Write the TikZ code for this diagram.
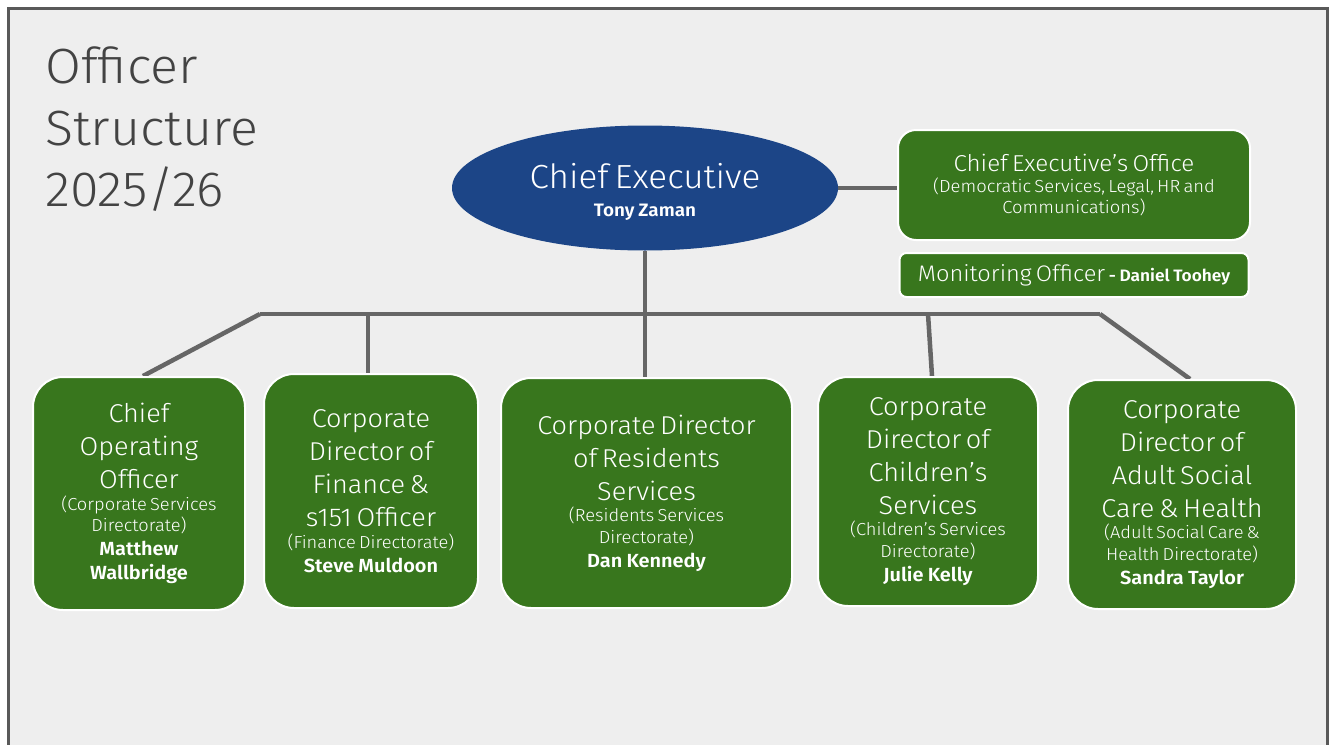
\documentclass[tikz,border=0pt]{standalone}
\usepackage{fontspec}
\IfFontExistsTF{Fira Sans Light}{%
  \IfFontExistsTF{Fira Sans SemiBold}{%
    \setmainfont{Fira Sans Light}[BoldFont={Fira Sans SemiBold},FakeStretch=1.05]}{%
    \setmainfont{Fira Sans Light}[BoldFont={Fira Sans Bold},FakeStretch=1.05]}}{%
  \setmainfont{Fira Sans}[FakeStretch=1.05]}
\usetikzlibrary{shapes.geometric,backgrounds}
\definecolor{ogreen}{HTML}{38761D}
\definecolor{oblue}{HTML}{1C4587}
\definecolor{lineg}{HTML}{666666}
\definecolor{frameg}{HTML}{595959}
\definecolor{bgg}{HTML}{EEEEEE}
\definecolor{titleg}{HTML}{434343}
\newcommand{\wsp}{\spaceskip=0.18em\relax}
\newcommand{\wspb}{\spaceskip=0.22em\relax}
\newcommand{\hbig}{\fontsize{25.8}{33}\selectfont\wsp}
\newcommand{\hsub}{\fontsize{17.4}{21.5}\selectfont\wsp}
\newcommand{\hname}{\fontsize{19}{24}\selectfont\bfseries\wspb}
\tikzset{
  gbox/.style={draw=white, line width=2pt, fill=ogreen, rounded corners=30pt,
    text=white, align=center, inner sep=0pt},
  conn/.style={draw=lineg, line width=4.5pt},
}
\begin{document}
\begin{tikzpicture}[x=1pt,y=-1pt]
\useasboundingbox (0,0) rectangle (1332,744);

% title
\node[anchor=north west, align=left, inner sep=0pt, text=titleg,
  font=\fontsize{49.5}{61.5}\selectfont] (title) at (45,47) {Officer\\Structure\\2025/26};

% chief executive
\node[ellipse, fill=oblue, inner sep=0pt, minimum width=386pt, minimum height=125pt] (ce) at (645,188) {};
\node[text=white, align=center, text width=300pt, inner sep=0pt] (cet) at (645,192)
  {\fontsize{33.4}{40}\selectfont\wsp Chief Executive\par
   \fontsize{18}{28}\selectfont\bfseries\wspb Tony Zaman\par};

% chief executive's office
\node[gbox, rounded corners=18pt, minimum width=352pt, minimum height=110pt,
  text width=340pt] (ceo) at (1074,185)
  {\fontsize{23}{26}\selectfont\wsp Chief Executive’s Office\par
   \fontsize{17.5}{21}\selectfont\wsp (Democratic Services, Legal, HR and\\Communications)\par};

% monitoring officer
\node[gbox, rounded corners=7pt, minimum width=349pt, minimum height=44pt,
  text width=340pt] (mo) at (1074,275)
  {{\fontsize{22.5}{26}\selectfont\wsp Monitoring Officer}{\fontsize{16.5}{26}\selectfont\bfseries\wspb\ - Daniel Toohey}\par};

% directors
\node[gbox, minimum width=212pt, minimum height=233pt, text width=200pt] (b1) at (139,493.5)
  {\hbig Chief\\Operating\\Officer\par
   \hsub (Corporate Services\\Directorate)\par
   \hname Matthew\\Wallbridge\par};
\node[gbox, minimum width=214pt, minimum height=234pt, text width=204pt] (b2) at (371,491)
  {\hbig Corporate\\Director of\\Finance \&\\s151 Officer\par
   \hsub (Finance Directorate)\par
   \hname Steve Muldoon\par};
\node[gbox, minimum width=291pt, minimum height=230pt, text width=280pt] (b3) at (646.5,493)
  {\hbig Corporate Director\\of Residents\\Services\par
   \hsub (Residents Services\\Directorate)\par
   \hname Dan Kennedy\par};
\node[gbox, minimum width=220pt, minimum height=229pt, text width=210pt] (b4) at (928,491.5)
  {\hbig Corporate\\Director of\\Children’s\\Services\par
   \hsub (Children’s Services\\Directorate)\par
   \hname Julie Kelly\par};
\node[gbox, minimum width=228pt, minimum height=229pt, text width=218pt] (b5) at (1182,494.5)
  {\hbig Corporate\\Director of\\Adult Social\\Care \& Health\par
   \hsub (Adult Social Care \&\\Health Directorate)\par
   \hname Sandra Taylor\par};

\coordinate (jl) at (260,314);
\coordinate (jr) at (1100,314);

\begin{scope}[on background layer]
  \fill[white] (0,0) rectangle (1332,744);
  \fill[bgg] (8.5,8.5) rectangle (1327,750);
  \draw[frameg, line width=3pt] (8.5,750) -- (8.5,8.5) -- (1327,8.5) -- (1327,750);
  \draw[conn] (ce.east) -- (ce.east -| ceo.west);
  \draw[conn] (ce.south) -- (ce.south |- b3.north);
  \draw[conn] (jl) -- (jr);
  \draw[conn] (jl) -- ([xshift=4pt]b1.north);
  \draw[conn] ([xshift=-3pt]b2.north |- jl) -- ([xshift=-3pt]b2.north);
  \draw[conn] (b4.north |- jl) -- ([xshift=4pt]b4.north);
  \draw[conn] (jr) -- ([xshift=8pt]b5.north);
\end{scope}
\end{tikzpicture}
\end{document}
